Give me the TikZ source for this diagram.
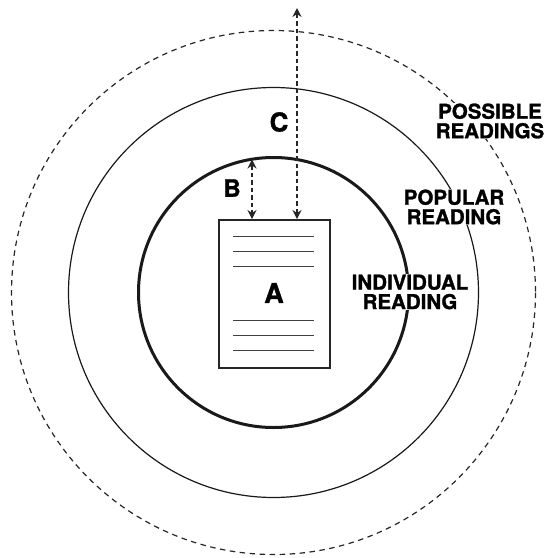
\documentclass[tikz,border=0pt]{standalone}
\usepackage{fontspec}
\setmainfont{TeX Gyre Heros}
\newfontfamily\heavy{TeX Gyre Heros}[UprightFont={* Bold}, RawFeature={embolden=1.3}]
\usetikzlibrary{arrows.meta}
\tikzset{
  lbl/.style={font=\heavy\fontsize{20.5}{19.5}\selectfont, align=center, fill=white, inner sep=1pt},
  letter/.style={font=\heavy\fontsize{26}{28}\selectfont, inner sep=0pt},
  ring/.style={draw=black!90, line width=1.2pt},
  dashring/.style={draw=black!85, line width=1.2pt, dash pattern=on 5.5pt off 4.5pt},
  thickring/.style={draw=black!90, line width=3pt},
  doc/.style={draw=black!85, line width=1.6pt, fill=white},
  txtline/.style={draw=black!75, line width=1pt},
  dim/.style={black!85, line width=1.3pt, dash pattern=on 4.5pt off 3pt, {Stealth[length=9pt,width=9pt]}-{Stealth[length=9pt,width=9pt]}}
}
\begin{document}
\begin{tikzpicture}[x=1pt,y=-1pt]
\useasboundingbox (0,0) rectangle (544,558);
\coordinate (O) at (273.5,292.5);
\draw[dashring] (O) circle (262);
\draw[ring] (O) circle (205);
\draw[thickring] (O) circle (135);
% document
\node[doc, minimum width=111pt, minimum height=148pt, inner sep=0pt, anchor=north west] (docu) at (218,219) {};
\foreach \yy in {236,251,266,320,335,350} {
  \draw[txtline] (233,\yy) -- (314,\yy);
}
\node[letter, font=\heavy\fontsize{27}{28}\selectfont] (A) at (274,293) {A};
% arrows
\coordinate (btop) at (252,159.5);
\coordinate (bbot) at (252,219);
\coordinate (ctop) at (297,8);
\coordinate (cbot) at (297,219);
\draw[dim] (btop) -- (bbot);
\draw[dim] (ctop) -- (cbot);
\node[letter, font=\heavy\fontsize{24}{26}\selectfont] (B) at (232,188) {B};
\node[letter] (C) at (279,122) {C};
% labels
\node[lbl] (poss) at (490,121) {POSSIBLE\\READINGS};
\node[lbl] (pop) at (454,207) {POPULAR\\READING};
\node[lbl] (ind) at (410,292) {INDIVIDUAL\\READING};
\end{tikzpicture}
\end{document}
